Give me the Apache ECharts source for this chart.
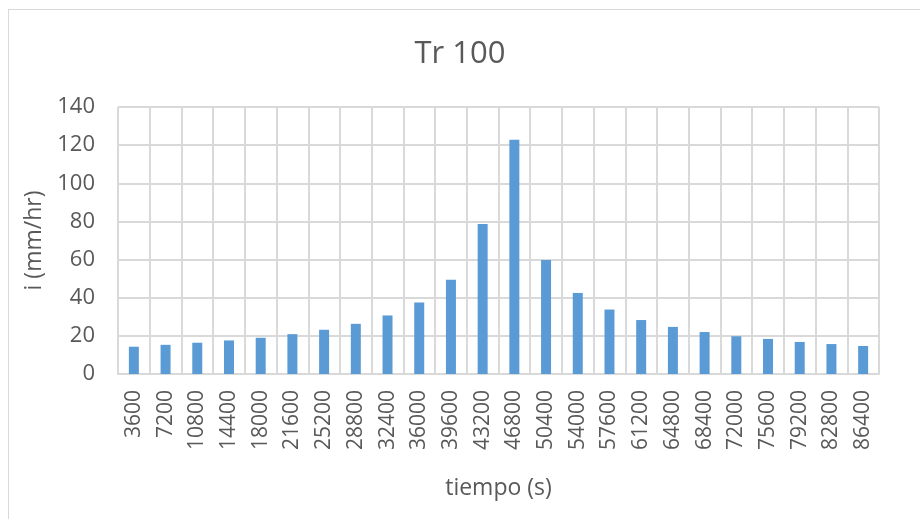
<!DOCTYPE html>
<html>
<head>
<meta charset="utf-8">
<script src="https://cdn.jsdelivr.net/npm/echarts@6/dist/echarts.min.js"></script>
<style>
  html, body { margin: 0; padding: 0; background: #fff; }
  #tr100 { width: 920px; height: 519px; }
</style>
</head>
<body>
<div id="tr100"></div>
<script>
var tiempo = ['3600', '7200', '10800', '14400', '18000', '21600', '25200', '28800',
    '32400', '36000', '39600', '43200', '46800', '50400', '54000', '57600',
    '61200', '64800', '68400', '72000', '75600', '79200', '82800', '86400'];
var intensidad = [14.3, 15.3, 16.4, 17.6, 19.0, 20.9, 23.2, 26.3,
    30.7, 37.5, 49.4, 78.7, 122.8, 59.8, 42.5, 33.8,
    28.3, 24.7, 22.0, 19.8, 18.4, 16.8, 15.7, 14.7];
var yTicks = [0, 20, 40, 60, 80, 100, 120, 140];

function tr100() {
    var myChart = echarts.init(document.getElementById('tr100'));
    var gris = '#595959';
    option = {
        backgroundColor: '#fff',
        textStyle: {fontFamily: 'Open Sans'},
        title: {
            text: 'Tr 100',
            left: 'center',
            top: 34,
            textStyle: {
                color: gris,
                fontSize: 31,
                fontWeight: 'normal'
            }
        },
        graphic: [
            {type: 'line', shape: {x1: 8.5, y1: 9, x2: 8.5, y2: 519}, style: {stroke: '#D9D9D9', lineWidth: 1}},
            {type: 'line', shape: {x1: 8, y1: 9.5, x2: 920, y2: 9.5}, style: {stroke: '#D9D9D9', lineWidth: 1}}
        ],
        grid: {
            left: 118,
            right: 41,
            top: 107,
            bottom: 145
        },
        xAxis: [
            {
                type: 'category',
                data: tiempo,
                name: 'tiempo (s)',
                nameLocation: 'middle',
                nameGap: 103,
                nameTextStyle: {color: gris, fontSize: 23},
                axisTick: {show: false},
                axisLine: {lineStyle: {color: '#D9D9D9', width: 2}},
                splitLine: {show: true, lineStyle: {color: '#D9D9D9', width: 2}},
                axisLabel: {
                    rotate: 90,
                    margin: 16,
                    color: gris,
                    fontSize: 21,
                    interval: 0
                }
            }
        ],
        yAxis: [
            {
                type: 'value',
                min: yTicks[0],
                max: yTicks[yTicks.length - 1],
                interval: 20,
                name: 'i (mm/hr)',
                nameLocation: 'middle',
                nameGap: 72,
                nameTextStyle: {color: gris, fontSize: 23},
                axisLine: {show: false},
                axisTick: {show: false},
                splitLine: {lineStyle: {color: '#D9D9D9', width: 2}},
                axisLabel: {
                    margin: 23,
                    color: gris,
                    fontSize: 22
                }
            }
        ],
        series: [
            {
                name: 'i',
                type: 'bar',
                barWidth: 10,
                itemStyle: {color: '#5B9BD5'},
                data: intensidad
            }
        ]
    };

    myChart.setOption(option);
}
tr100();
</script>
</body>
</html>
